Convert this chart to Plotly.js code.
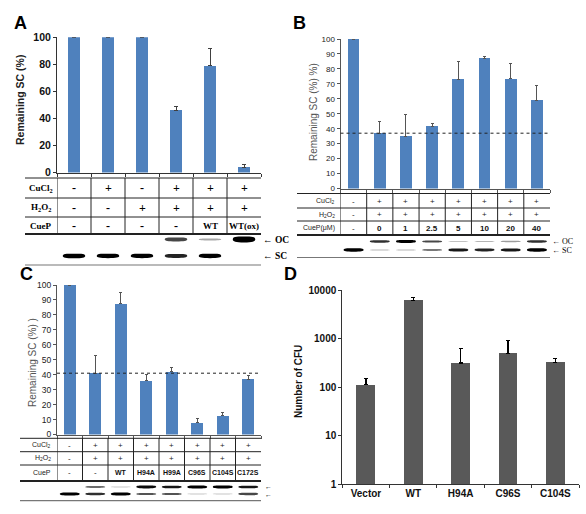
<!DOCTYPE html>
<html><head><meta charset="utf-8">
<script src="https://cdn.plot.ly/plotly-3.0.1.min.js"></script>
<style>body{margin:0;padding:0;background:#fff}#chart{width:586px;height:514px}</style>
</head><body><div id="chart"></div>
<script>
// ---------- Panel A ----------
const lanesA = [0,1,2,3,4,5];
const valA = [100,100,100,46,79,4];
const errA = [0,0,0,3,13,2];
const cuclA = ['-','+','-','+','+','+'];
const h2o2A = ['-','-','+','+','+','+'];
const cuepA = ['-','-','-','-','WT','WT(ox)'];
const ocA = [0,0,0,0.6,0.2,1];
const scA = [1,0.9,0.9,0.75,0.9,0];
// ---------- Panel B ----------
const lanesB = [0,1,2,3,4,5,6,7];
const valB = [100,37,35,41.5,73,87,73.5,59];
const errB = [0,8,14.5,2,12,1,10,10];
const refB = 37;
const cuclB = ['-','+','+','+','+','+','+','+'];
const h2o2B = ['-','+','+','+','+','+','+','+'];
const cuepB = ['-','0','1','2.5','5','10','20','40'];
const ocB = [0,0.7,0.9,0.6,0.1,0.15,0.25,0.7];
const scB = [0.9,0.15,0.15,0.4,0.8,0.75,0.8,0.9];
// ---------- Panel C ----------
const lanesC = [0,1,2,3,4,5,6,7];
const valC = [100,41,87.5,36,42,8,12.5,37];
const errC = [0,12,7.5,4,3,3,2.5,2.5];
const refC = 41;
const cuclC = ['-','+','+','+','+','+','+','+'];
const h2o2C = ['-','+','+','+','+','+','+','+'];
const cuepC = ['-','-','WT','H94A','H99A','C96S','C104S','C172S'];
const ocC = [0,0.45,0.08,0.85,0.8,0.95,0.9,0.8];
const scC = [0.9,0.7,0.9,0.55,0.55,0.08,0.08,0.6];
// ---------- Panel D ----------
const catD = ['Vector','WT','H94A','C96S','C104S'];
const valD = [112,6100,312,495,323];
const errD = [36,960,315,407,61];

const W = 586, H = 514;
const X = px => px / W;
const Y = py => 1 - py / H;
const BLUE = '#4F81BD';
const SANS = 'Liberation Sans, Arial, sans-serif';
const SERIF = 'Liberation Serif, Times New Roman, serif';

const traces = [
  {type:'bar', x:lanesA, y:valA, width:0.38, marker:{color:BLUE}, xaxis:'x', yaxis:'y',
   error_y:{type:'data', symmetric:false, array:errA, arrayminus:errA.map(()=>0), color:'#404040', thickness:1, width:2}},
  {type:'bar', x:lanesB, y:valB, width:0.45, marker:{color:BLUE}, xaxis:'x2', yaxis:'y2',
   error_y:{type:'data', symmetric:false, array:errB, arrayminus:errB.map(()=>0), color:'#555', thickness:1, width:1.5}},
  {type:'bar', x:lanesC, y:valC, width:0.46, marker:{color:BLUE}, xaxis:'x3', yaxis:'y3',
   error_y:{type:'data', symmetric:false, array:errC, arrayminus:errC.map(()=>0), color:'#555', thickness:1, width:1.5}},
  {type:'bar', x:catD, y:valD, width:0.4, marker:{color:'#595959'}, xaxis:'x4', yaxis:'y4',
   error_y:{type:'data', symmetric:false, array:errD, arrayminus:errD.map(()=>0), color:'#000', thickness:1.5, width:2}}
];

const shapes = [];
const annotations = [];

function hline(x0, x1, y, w, c){ shapes.push({type:'line', xref:'paper', yref:'paper', x0:X(x0), x1:X(x1), y0:Y(y), y1:Y(y), line:{color:c||'#000', width:w||1}}); }
function bandPath(xc, hw, yc, hh){
  const a = xc-hw, b = xc+hw, r = hw*0.25, s = hh*0.35;
  // capsule-like band, slightly thinner at the ends
  return `M${a},${yc} C${a},${yc+hh} ${a+r},${yc+hh} ${xc},${yc+hh} C${b-r},${yc+hh} ${b},${yc+hh} ${b},${yc} ` +
         `C${b},${yc-hh+s} ${b-r},${yc-hh} ${xc},${yc-hh} C${a+r},${yc-hh} ${a},${yc-hh+s} ${a},${yc} Z`;
}
function gel(xref, lanes, inten, ypx, hw, hmin, hmax){
  lanes.forEach((l,i)=>{
    const I = inten[i];
    if (I <= 0) return;
    const hh = (hmin + (hmax-hmin)*I) / H;
    shapes.push({type:'path', xref:xref, yref:'paper', path:bandPath(l, hw, Y(ypx), hh),
      fillcolor:'#000', opacity:Math.min(1, 0.15+0.95*I), line:{width:0}});
  });
}
function table(opt){
  opt.lineYs.forEach((y,k)=> hline(opt.left, opt.right, y, k===opt.lineYs.length-1 ? 1.8 : 1, '#222'));
  opt.lanes.forEach(l=>{
    shapes.push({type:'line', xref:opt.xref, yref:'paper', x0:l-0.5, x1:l-0.5,
      y0:Y(opt.lineYs[0]), y1:Y(opt.lineYs[opt.lineYs.length-1]), line:{color:'#222', width:1}});
  });
  opt.rows.forEach((row,r)=>{
    annotations.push({xref:'paper', yref:'paper', x:X(opt.labelX), y:Y(opt.rowYs[r]), xanchor:opt.labelAnchor||'center', yanchor:'middle',
      text:opt.rowLabels[r], showarrow:false, font:opt.labelFont});
    row.forEach((v,i)=>{
      const isSign = (v==='+'||v==='-');
      annotations.push({xref:opt.xref, yref:'paper', x:opt.lanes[i], y:Y(opt.rowYs[r]), xanchor:'center', yanchor:'middle',
        text:v, showarrow:false, font: isSign ? opt.signFont : opt.valFont});
    });
  });
}

// ---------- Panel A table & gel ----------
table({xref:'x', lanes:lanesA, rows:[cuclA,h2o2A,cuepA],
  rowLabels:['CuCl<sub>2</sub>','H<sub>2</sub>O<sub>2</sub>','CueP'],
  rowYs:[188,207.5,225.5], lineYs:[178,198,217,234], left:25, right:261, labelX:41,
  labelFont:{family:SERIF, size:9, color:'#000', weight:'bold'},
  signFont:{family:SERIF, size:12, color:'#000', weight:'bold'},
  valFont:{family:SERIF, size:9, color:'#000', weight:'bold'}});
gel('x', lanesA, ocA, 239.5, 0.33, 0.5, 3.0);
gel('x', lanesA, scA, 256, 0.33, 0.8, 2.3);
hline(25, 261, 265, 1.2, '#777');
annotations.push({xref:'paper', yref:'paper', x:X(261), y:Y(240), xanchor:'left', yanchor:'middle', text:'← OC', showarrow:false, font:{family:SERIF, size:9.5, color:'#000', weight:'bold'}});
annotations.push({xref:'paper', yref:'paper', x:X(261), y:Y(256), xanchor:'left', yanchor:'middle', text:'← SC', showarrow:false, font:{family:SERIF, size:9.5, color:'#000', weight:'bold'}});

// ---------- Panel B table & gel ----------
table({xref:'x2', lanes:lanesB, rows:[cuclB,h2o2B,cuepB],
  rowLabels:['CuCl<sub>2</sub>','H<sub>2</sub>O<sub>2</sub>','CueP(μM)'],
  rowYs:[201.5,214.5,228], lineYs:[193.5,208,221,235], left:297, right:550, labelX:337, labelAnchor:'right',
  labelFont:{family:SANS, size:7, color:'#222'},
  signFont:{family:SANS, size:8, color:'#222'},
  valFont:{family:SANS, size:8, color:'#111', weight:'bold'}});
gel('x2', lanesB, ocB, 241.5, 0.38, 0.4, 1.6);
gel('x2', lanesB, scB, 250, 0.38, 0.4, 1.8);
hline(297, 550, 257.5, 1.2, '#777');
annotations.push({xref:'paper', yref:'paper', x:X(550), y:Y(241.5), xanchor:'left', yanchor:'middle', text:'← OC', showarrow:false, font:{family:SERIF, size:8, color:'#000'}});
annotations.push({xref:'paper', yref:'paper', x:X(550), y:Y(250.5), xanchor:'left', yanchor:'middle', text:'← SC', showarrow:false, font:{family:SERIF, size:8, color:'#000'}});
shapes.push({type:'line', xref:'paper', yref:'y2', x0:X(340.5), x1:X(550), y0:refB, y1:refB, line:{color:'#222', width:1, dash:'dot'}});

// ---------- Panel C table & gel ----------
table({xref:'x3', lanes:lanesC, rows:[cuclC,h2o2C,cuepC],
  rowLabels:['CuCl<sub>2</sub>','H<sub>2</sub>O<sub>2</sub>','CueP'],
  rowYs:[445,458.3,472.5], lineYs:[438.3,451.7,465,481], left:20, right:261, labelX:53, labelAnchor:'right',
  labelFont:{family:SANS, size:7, color:'#222'},
  signFont:{family:SANS, size:8, color:'#222'},
  valFont:{family:SANS, size:7, color:'#111', weight:'bold'}});
gel('x3', lanesC, ocC, 487, 0.39, 0.4, 1.6);
gel('x3', lanesC, scC, 494, 0.39, 0.4, 1.7);
hline(20, 261, 500.7, 1.2, '#777');
annotations.push({xref:'paper', yref:'paper', x:X(263), y:Y(486.5), xanchor:'left', yanchor:'middle', text:'←', showarrow:false, font:{family:SERIF, size:7, color:'#000'}});
annotations.push({xref:'paper', yref:'paper', x:X(263), y:Y(494.5), xanchor:'left', yanchor:'middle', text:'←', showarrow:false, font:{family:SERIF, size:7, color:'#000'}});
shapes.push({type:'line', xref:'paper', yref:'y3', x0:X(57), x1:X(261), y0:refC, y1:refC, line:{color:'#222', width:1, dash:'dot'}});

// ---------- Titles & panel letters ----------
const letter = (t,x,y)=>annotations.push({xref:'paper', yref:'paper', x:X(x), y:Y(y), xanchor:'center', yanchor:'middle', text:t, showarrow:false, font:{family:SANS, size:18, color:'#000', weight:'bold'}});
letter('A', 20, 23.5); letter('B', 299, 23.5); letter('C', 26, 274); letter('D', 290, 274);
const ytitle = (t,x,y,font)=>annotations.push({xref:'paper', yref:'paper', x:X(x), y:Y(y), xanchor:'center', yanchor:'middle', textangle:-90, text:t, showarrow:false, font:font});
ytitle('Remaining SC (%)', 20, 100, {family:SANS, size:10.5, color:'#222', weight:'bold'});
ytitle('Remaining SC (%) %)', 313, 112, {family:SANS, size:10, color:'#555'});
ytitle('Remaining SC (%) )', 32, 363, {family:SANS, size:10, color:'#555'});
ytitle('Number of CFU', 298, 382, {family:SANS, size:10, color:'#111', weight:'bold'});

const linAxisX = (dom, n, anchor, col)=>({domain:dom, range:[-0.5, n-0.5], anchor:anchor, showline:true, linecolor:col, linewidth:1,
  tickvals:Array.from({length:n+1},(_,i)=>i-0.5), ticks:'outside', ticklen:3, tickcolor:col, showticklabels:false, showgrid:false, zeroline:false, fixedrange:true});

const layout = {
  width:W, height:H, margin:{l:0,r:0,t:0,b:0}, paper_bgcolor:'#fff', plot_bgcolor:'rgba(0,0,0,0)',
  showlegend:false, bargap:0,
  xaxis: linAxisX([X(57),X(261)], 6, 'y', '#333'),
  yaxis: {domain:[Y(172.5),Y(37.3)], range:[0,100], anchor:'x', tickvals:[0,20,40,60,80,100], ticks:'outside', ticklen:3,
    tickcolor:'#333', showline:true, linecolor:'#333', showgrid:false, zeroline:false,
    tickfont:{family:SANS, size:10.5, color:'#111', weight:'bold'}},
  xaxis2: linAxisX([X(340.5),X(550)], 8, 'y2', '#555'),
  yaxis2: {domain:[Y(188.5),Y(39)], range:[0,100], anchor:'x2', tickvals:[0,10,20,30,40,50,60,70,80,90,100], ticks:'outside', ticklen:3,
    tickcolor:'#555', showline:true, linecolor:'#555', showgrid:false, zeroline:false,
    tickfont:{family:SANS, size:8, color:'#222'}},
  xaxis3: linAxisX([X(57),X(261)], 8, 'y3', '#555'),
  yaxis3: {domain:[Y(434.5),Y(285)], range:[0,100], anchor:'x3', tickvals:[0,10,20,30,40,50,60,70,80,90,100], ticks:'outside', ticklen:3,
    tickcolor:'#555', showline:true, linecolor:'#555', showgrid:false, zeroline:false,
    tickfont:{family:SANS, size:8.5, color:'#222'}},
  xaxis4: {domain:[X(342.3),X(579)], anchor:'y4', type:'category', tickson:'boundaries', ticks:'outside', ticklen:3, tickcolor:'#333',
    showline:true, linecolor:'#333', showgrid:false, zeroline:false, tickfont:{family:SANS, size:10, color:'#111', weight:'bold'}},
  yaxis4: {domain:[Y(484),Y(290)], anchor:'x4', type:'log', range:[0,4], tickvals:[1,10,100,1000,10000], ticktext:['1','10','100','1000','10000'],
    ticks:'outside', ticklen:3, tickcolor:'#333', showline:true, linecolor:'#333', showgrid:false, zeroline:false,
    tickfont:{family:SANS, size:10, color:'#111', weight:'bold'}},
  shapes:shapes, annotations:annotations
};
Plotly.newPlot('chart', traces, layout, {displayModeBar:false, staticPlot:true});
</script></body></html>
